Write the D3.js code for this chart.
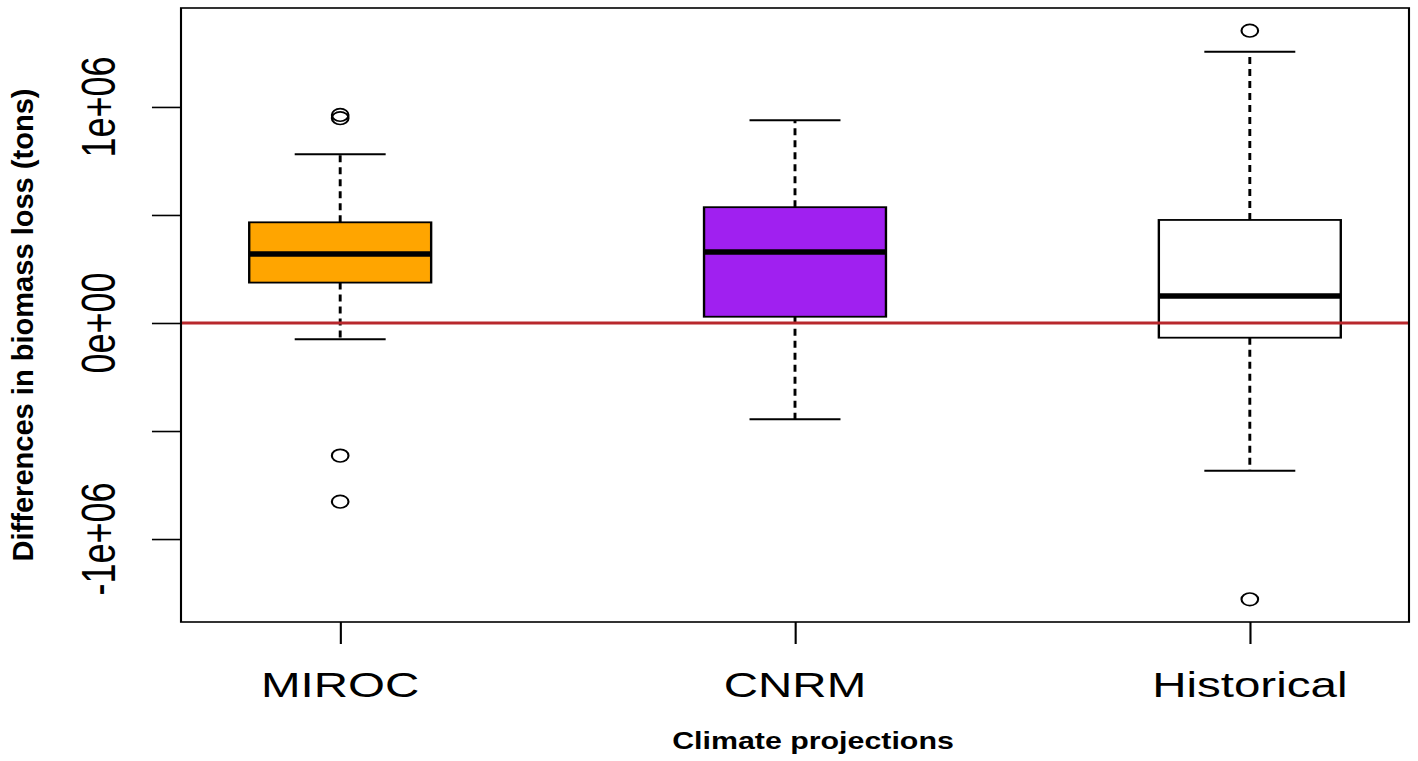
<!DOCTYPE html>
<html lang="en">
<head>
<meta charset="UTF-8">
<title>Biomass loss boxplot</title>
<style>
  body { margin: 0; background: #fff; }
  text { font-family: "Liberation Sans", Arial, sans-serif; fill: #000; }
</style>
</head>
<body>
<script src="https://d3js.org/d3.v7.min.js"></script>
<script>
// data (tons)
const categories = ["MIROC", "CNRM", "Historical"];
const boxColors = ["#FFA500", "#A020F0", "#FFFFFF"];
const whiskerLow = [-75000, -446000, -684000];
const q1 = [187000, 29000, -68000];
const median = [319000, 329000, 125000];
const q3 = [466000, 536000, 477000];
const whiskerHigh = [781000, 938000, 1255000];
const outliers = [[963000, 948000, -614000, -827000], [], [1353000, -1279000]];
const yTicks = [-1000000, -500000, 0, 500000, 1000000];
const yTickLabels = {"-1000000": "-1e+06", "0": "0e+00", "1000000": "1e+06"};

// the original image is stretched sideways, so draw in a narrow space and scale x
const W = 1418, H = 761;
const sx = 1.32;
const plotLeft = 181 / sx, plotRight = 1409 / sx, plotTop = 8, plotBottom = 622;

const svg = d3.select("body").append("svg")
    .attr("width", W).attr("height", H);
svg.append("rect").attr("width", W).attr("height", H).attr("fill", "#fff");
const g = svg.append("g").attr("transform", "scale(" + sx + ",1)");

const x = d3.scaleLinear().domain([0.65, 3.35]).range([plotLeft, plotRight]);
const y = d3.scaleLinear().domain([-1384000, 1458000]).range([plotBottom, plotTop]);

let rows = categories.map((c, i) => ({
    name: c, i: i + 1, color: boxColors[i],
    lo: whiskerLow[i], q1: q1[i], med: median[i], q3: q3[i], hi: whiskerHigh[i],
    out: outliers[i]
}));

// y axis ticks
g.append("g")
    .attr("transform", "translate(" + plotLeft + ",0)")
    .call(d3.axisLeft(y).tickValues(yTicks).tickSize(22).tickFormat(""))
    .call(a => a.select(".domain").remove())
    .selectAll("line").attr("stroke", "#000").attr("stroke-width", 1.6);

g.selectAll(".ylab")
    .data(yTicks.filter(t => yTickLabels[t] !== undefined))
    .enter().append("text")
    .attr("transform", d => "translate(87," + y(d) + ") rotate(-90)")
    .attr("text-anchor", "middle")
    .style("font-size", "36px")
    .text(d => yTickLabels[d]);

// x axis ticks
g.append("g")
    .attr("transform", "translate(0," + plotBottom + ")")
    .call(d3.axisBottom(x).tickValues([1, 2, 3]).tickSize(22).tickFormat(""))
    .call(a => a.select(".domain").remove())
    .selectAll("line").attr("stroke", "#000").attr("stroke-width", 1.6);

g.selectAll(".xlab")
    .data(rows)
    .enter().append("text")
    .attr("x", d => x(d.i))
    .attr("y", 697)
    .attr("text-anchor", "middle")
    .style("font-size", "36px")
    .text(d => d.name);

// axis titles
g.append("text")
    .attr("transform", "translate(25," + 325 + ") rotate(-90)")
    .attr("text-anchor", "middle")
    .attr("textLength", 473)
    .attr("lengthAdjust", "spacingAndGlyphs")
    .style("font-size", "22px").style("font-weight", "bold")
    .text("Differences in biomass loss (tons)");

g.append("text")
    .attr("x", 813 / sx)
    .attr("y", 749)
    .attr("text-anchor", "middle")
    .style("font-size", "23px").style("font-weight", "bold")
    .text("Climate projections");

// boxes
const half = 0.2, capHalf = 0.1;
let box = g.selectAll(".box").data(rows).enter().append("g");

box.append("line")
    .attr("x1", d => x(d.i)).attr("x2", d => x(d.i))
    .attr("y1", d => y(d.q3)).attr("y2", d => y(d.hi))
    .attr("stroke", "#000").attr("stroke-width", 2.2).attr("stroke-dasharray", "7,5");
box.append("line")
    .attr("x1", d => x(d.i)).attr("x2", d => x(d.i))
    .attr("y1", d => y(d.q1)).attr("y2", d => y(d.lo))
    .attr("stroke", "#000").attr("stroke-width", 2.2).attr("stroke-dasharray", "7,5");
box.append("line")
    .attr("x1", d => x(d.i - capHalf)).attr("x2", d => x(d.i + capHalf))
    .attr("y1", d => y(d.hi)).attr("y2", d => y(d.hi))
    .attr("stroke", "#000").attr("stroke-width", 2);
box.append("line")
    .attr("x1", d => x(d.i - capHalf)).attr("x2", d => x(d.i + capHalf))
    .attr("y1", d => y(d.lo)).attr("y2", d => y(d.lo))
    .attr("stroke", "#000").attr("stroke-width", 2);

box.append("rect")
    .attr("x", d => x(d.i - half))
    .attr("width", d => x(d.i + half) - x(d.i - half))
    .attr("y", d => y(d.q3))
    .attr("height", d => y(d.q1) - y(d.q3))
    .attr("fill", d => d.color)
    .attr("stroke", "#000").attr("stroke-width", 1.8);

box.append("line")
    .attr("x1", d => x(d.i - half)).attr("x2", d => x(d.i + half))
    .attr("y1", d => y(d.med)).attr("y2", d => y(d.med))
    .attr("stroke", "#000").attr("stroke-width", 5.5);

box.selectAll("circle")
    .data(d => d.out.map(v => ({i: d.i, v: v})))
    .enter().append("circle")
    .attr("cx", d => x(d.i))
    .attr("cy", d => y(d.v))
    .attr("r", 6.3)
    .attr("fill", "none")
    .attr("stroke", "#000").attr("stroke-width", 1.6);

// zero reference line
g.append("line")
    .attr("x1", plotLeft).attr("x2", plotRight)
    .attr("y1", y(0)).attr("y2", y(0))
    .attr("stroke", "#b8272c").attr("stroke-width", 3);

// frame
g.append("rect")
    .attr("x", plotLeft).attr("y", plotTop)
    .attr("width", plotRight - plotLeft).attr("height", plotBottom - plotTop)
    .attr("fill", "none").attr("stroke", "#000").attr("stroke-width", 1.6);
</script>
</body>
</html>
